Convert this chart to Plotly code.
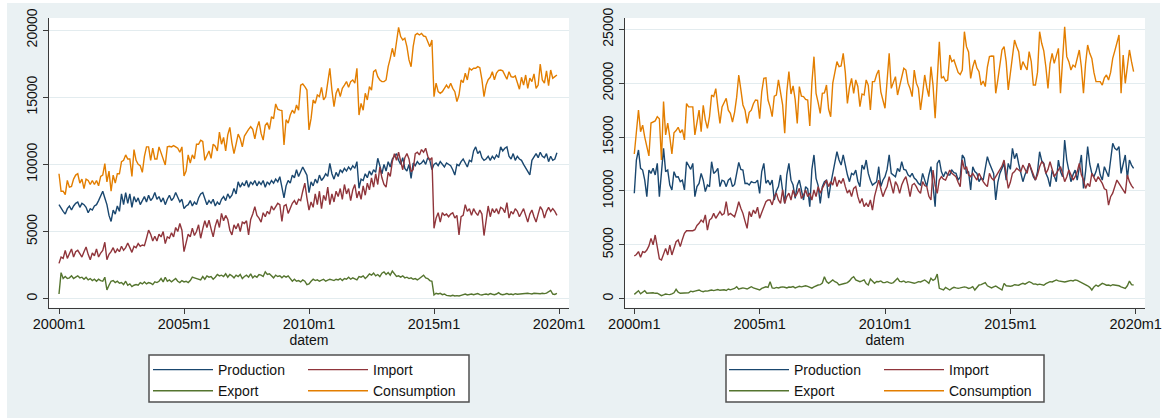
import plotly.graph_objects as go

W, H = 1170, 419
FONT = "Liberation Sans, Arial, sans-serif"

# ---------------- data ----------------
month = list(range(240))  # 2000m1 .. 2019m12
x_tick_vals = [0, 60, 120, 180, 240]
x_tick_text = ["2000m1", "2005m1", "2010m1", "2015m1", "2020m1"]
y_ticks_left = [0, 5000, 10000, 15000, 20000]
y_ticks_right = [0, 5000, 10000, 15000, 20000, 25000]

left_production = [
    7000, 6700, 6500, 6300, 6700, 6900, 6600, 6900, 7100, 7200, 6800, 7100,
    7000, 6800, 6400, 6700, 6600, 6900, 7000, 7300, 7600, 8000, 7500, 7000,
    6200, 5750, 6600, 6300, 6900, 6500, 7800, 7000, 7900, 7100, 7800, 6800,
    7600, 7200, 7500, 7000, 7300, 7600, 7200, 7700, 7300, 7500, 7900, 7400,
    7600, 7200, 7500, 7000, 7400, 7700, 7300, 7500, 7900, 7600, 7200, 7400,
    6700, 6900, 7000, 7300, 6900, 7200, 7000, 7500, 7800, 7900, 7400, 7000,
    7300, 7100, 7400, 6900, 7200, 7000, 7400, 7600, 7300, 7800, 7500, 7700,
    8200, 7800, 8700, 8300, 8600, 8400, 8800, 8300, 8700, 8500, 8800, 8400,
    8700, 8500, 8800, 8300, 8700, 8500, 8800, 8600, 8900, 8700, 9080, 8300,
    7500, 8400, 8800, 8600, 9200, 9000, 9600, 9100, 9400, 9800, 9500, 9200,
    7900, 8700, 8400, 8900, 8600, 9200, 8800, 9000, 9300, 9100, 10080, 9300,
    8900, 9400, 9100, 9600, 9400, 9700, 9500, 9800, 9600, 9900, 9700, 10200,
    8220, 8900, 8800, 9300, 9000, 9500, 9200, 9600, 9400, 10450, 9900, 9300,
    10000, 9500, 10200, 9800, 10400, 10600, 10800, 10300, 10000, 10500, 9700, 9500,
    10000, 8960, 10100, 9900, 10200, 10000, 10100, 10300, 10000, 10500, 10300, 9600,
    10000, 10100, 9900, 10200, 10000, 9800, 10100, 10000, 9900, 9600, 9200, 10000,
    9900, 10200, 10400, 10100, 9800, 10300, 10200, 11000, 11300, 10800, 11000, 10500,
    10300, 10400, 10600, 10300, 10600, 10400, 10700, 10500, 11300, 11000, 11200, 11300,
    10600, 10400, 10800, 10300, 10600, 10400, 10300, 10000, 9700, 9400, 9210, 10300,
    10600, 10800, 10500, 10900, 10600, 10500, 10800, 10200, 10600, 10300, 10400, 10870,
]
left_import = [
    2630, 3100, 3000, 3600, 3000, 3300, 3700, 3100, 3500, 3600, 3300, 3100,
    3500, 3850, 3300, 2900, 3400, 3200, 3700, 3100, 3400, 3600, 4200, 2900,
    3300, 3500, 3800, 3400, 3700, 3500, 3900, 3600, 3800, 4150, 3800, 3450,
    3900, 3800, 4100, 3900, 4000, 3950, 4500, 5100, 4800, 4300, 4650, 4300,
    4800, 4600, 5000, 4100, 4600, 4500, 4900, 4600, 5300, 5000, 5600, 5100,
    3500, 4200, 4800, 4600, 5250, 4700, 5000, 5500, 4500, 5200, 5800, 5300,
    5850, 5200, 4600, 5400, 5900, 5300, 6350, 5800, 6200, 5900, 5100, 4750,
    5500, 5200, 5600, 5000, 5700, 5600, 5800, 4750, 5900, 6300, 6850, 6200,
    6000, 5700, 6400, 6100, 6500, 6300, 6900, 6600, 6900, 7100, 7000, 5750,
    6900, 7000, 6350, 6800, 7100, 7300, 7000, 7400, 7300, 8000, 8600, 7500,
    6600, 7200, 6800, 7800, 7000, 8000, 6700, 7700, 7300, 8300, 7000, 7800,
    7200, 8000, 7600, 8200, 7400, 8500, 7800, 8200, 7300, 8100, 8500, 7500,
    8000, 7400, 8400, 7700, 8600, 8100, 9000, 8300, 9300, 8500, 9800, 9000,
    8500, 8300, 9400, 9100, 10200, 10800, 10300, 10900, 10200, 9600, 10500, 10800,
    10400, 9450, 9600, 10800, 10900, 10700, 11100, 10900, 11200, 10600, 10320, 10500,
    5240, 6000, 6400, 5700, 6400, 6200, 6300, 6100, 6300, 6400, 6000, 6200,
    4750, 6100, 6200, 7000, 6500, 6700, 6200, 6700, 6400, 6200, 6600, 6300,
    4700, 5900, 6900, 6100, 6700, 6400, 6700, 6300, 6800, 6700, 6400, 7150,
    6000, 6500, 6300, 6700, 6500, 6100, 6400, 6700, 6200, 5700, 6300, 6600,
    6100, 5700, 6300, 6850, 6600, 6000, 6500, 6800, 6500, 6700, 6500, 6200,
]
left_export = [
    350, 1940, 1500, 1650, 1500, 1550, 1700, 1500, 1600, 1700, 1550, 1600,
    1450, 1600, 1400, 1500, 1350, 1450, 1300, 1450, 1350, 1300, 1600, 650,
    1000, 1300, 1350, 1200, 1300, 1150, 1200, 1050, 1300, 1000, 1100, 900,
    1000, 1050, 1000, 1200, 1100, 1250, 1100, 1200, 1150, 1050, 1250, 1200,
    1300, 1500, 1250, 1600, 1300, 1400, 1250, 1350, 1500, 1300, 1200, 1350,
    1250, 1300, 1200, 1350, 1600, 1550, 1500, 1450, 1400, 1650, 1450, 1700,
    1600, 1650, 1450, 1600, 1800, 1700, 1750, 1650, 1850, 1600, 1800, 1700,
    1550, 1750, 1650, 1800, 1500, 1650, 1750, 1600, 1850, 1550, 1700, 1600,
    1800, 1750, 1650, 2000, 1800, 1850, 1700, 1550, 1750, 1650, 1700, 1550,
    1700, 1600, 1700, 1450, 1300, 1450, 1300, 1350, 1250, 1400, 1300, 1050,
    1100, 1300, 1450, 1350, 1400, 1300, 1350, 1450, 1300, 1400, 1450, 1400,
    1350, 1450, 1400, 1500, 1350, 1500, 1450, 1600, 1450, 1550, 1500, 1400,
    1650, 1600, 1700, 1500, 1650, 1850, 1750, 1900, 1700, 1800, 1650, 1900,
    2000, 1800, 1950, 1750, 2050, 1850, 1650, 1700, 1600, 1700, 1550, 1600,
    1500, 1550, 1450, 1500, 1400, 1500, 1600, 1750, 1550, 1500, 1350, 1300,
    280, 400, 350, 400, 300, 350, 250, 220, 200, 250, 200, 230,
    200, 250, 300, 350, 280, 300, 350, 300, 320, 380, 300, 280,
    320, 350, 300, 380, 330, 300, 350, 450, 330, 300, 330, 380,
    320, 350, 300, 370, 330, 350, 380, 350, 370, 400, 380, 350,
    400, 380, 350, 370, 400, 380, 420, 500, 620, 350, 320, 400,
]
left_consumption = [
    9300, 8000, 8000, 7750, 8800, 8300, 8350, 8900, 9200, 9300, 8600, 8900,
    8200, 8900, 8800, 8500, 8800, 8500, 8800, 8400, 9100, 9200, 10050, 8700,
    9500, 8000, 9200, 8600, 9300, 9300, 10200, 10300, 10700, 10400, 10400, 9100,
    11100, 10300, 10000, 9900, 9400, 10600, 11300, 11300, 10300, 11200, 10400, 10400,
    11300, 10800, 10400, 9950, 11300, 11350, 11300, 11400, 11300, 11200, 10900, 11300,
    9130, 9500, 10700, 10100, 10700, 10400, 11500, 11500, 11800, 11700, 10300, 10700,
    11000, 10450, 11500, 11350, 11000, 12400, 11500, 12000, 11000, 12200, 12750, 11600,
    10800, 11500, 12250, 11900, 11300, 12100, 12400, 12600, 12800, 12600, 11900, 12700,
    13200, 12300, 11800, 12900, 13100, 12600, 13550, 13400, 14500, 14100, 14030, 14000,
    11440, 13320, 13070, 13670, 14030, 13790, 14420, 14030, 15900, 15980, 15780, 15530,
    12560, 13420, 14790, 14540, 15160, 15040, 15730, 14790, 15040, 16040, 17150, 15530,
    14290, 15290, 15660, 15040, 15660, 15900, 16160, 15730, 16160, 16280, 16040, 17150,
    13670, 14540, 14030, 15290, 14790, 15780, 15530, 16900, 17020, 16530, 16280, 16160,
    16160, 16280, 17270, 17890, 18640, 18010, 19130, 20200, 19510, 19260, 19390, 18760,
    17770, 17270, 18760, 19630, 19750, 19630, 19750, 19550, 19510, 19130, 18760, 19260,
    15040, 16040, 15410, 15290, 15410, 15660, 15900, 15660, 16040, 15660, 15410, 14670,
    15160, 16280, 16090, 16780, 16280, 17150, 17020, 17150, 17150, 17270, 17200, 16300,
    15040, 15900, 16300, 16480, 16900, 16300, 16800, 17000, 17020, 16960, 16650, 16330,
    16900, 16530, 16480, 16580, 16090, 15590, 16480, 15900, 16650, 15660, 16410, 16160,
    16730, 15660, 15900, 17470, 16280, 16040, 16960, 15850, 17020, 16410, 16530, 16650,
]

right_production = [
    9780, 12870, 13800, 12100, 11940, 11010, 9470, 11940, 11630, 12100, 11480, 12560,
    9470, 11800, 13950, 11790, 11940, 10550, 10090, 11790, 11300, 11320, 10860, 11000,
    10090, 12710, 12410, 12000, 12560, 9470, 10400, 10700, 11630, 11000, 9940, 10550,
    10400, 12710, 11630, 11800, 12100, 10400, 11000, 10900, 10400, 11000, 11170, 10400,
    10600, 11500, 12650, 12000, 11940, 10700, 10710, 10550, 10860, 10770, 10770, 11000,
    9780, 11800, 12560, 10710, 11000, 10550, 11010, 9160, 10000, 10400, 11480, 10000,
    8850, 11500, 12560, 11000, 10550, 9320, 10500, 11010, 10000, 9160, 10400, 10200,
    8540, 12000, 13340, 11170, 10500, 8850, 10400, 10860, 11000, 9320, 10600, 11630,
    12500, 13640, 12870, 12400, 13340, 12250, 11500, 10860, 11630, 11500, 11940, 10900,
    10400, 12410, 12000, 12870, 11630, 11000, 10550, 10700, 10860, 12250, 10400, 11000,
    11320, 12000, 13340, 11630, 11500, 11320, 12100, 11800, 12710, 12000, 11940, 11500,
    11320, 11630, 11200, 11010, 10700, 10550, 11630, 11000, 10400, 11480, 12250, 10500,
    8540, 12560, 12870, 11800, 11320, 11790, 11500, 11480, 11940, 11700, 11630, 11010,
    11300, 13340, 13030, 11630, 11800, 10090, 12250, 11800, 11630, 10860, 11200, 11010,
    12000, 13180, 12560, 12000, 11630, 9160, 10800, 11630, 12200, 12560, 11010, 12560,
    12000, 13950, 13000, 13490, 12500, 11630, 10860, 11500, 11940, 12560, 12000, 11320,
    11010, 11800, 13640, 12800, 12560, 11630, 11200, 10400, 11940, 11300, 10860, 12870,
    11800, 11320, 14730, 12870, 12000, 10860, 11500, 11940, 11010, 12000, 13340, 10240,
    11800, 14110, 12500, 11630, 11320, 11800, 12560, 11500, 11010, 12250, 11800, 11320,
    12870, 14420, 13950, 13800, 14110, 11630, 12500, 13340, 11170, 12870, 12400, 12100,
]
right_import = [
    3960, 4100, 4370, 3840, 4360, 4300, 4520, 4900, 5600, 5000, 5910, 4600,
    3700, 3590, 4210, 4670, 4060, 4980, 4060, 4700, 5290, 5450, 4830, 5500,
    6070, 6310, 6310, 6310, 6310, 6400, 6800, 7000, 7300, 7100, 7770, 6370,
    7300, 7460, 7920, 7460, 7800, 8080, 7770, 7900, 9000, 7770, 7920, 7800,
    7610, 8230, 9000, 8400, 7920, 7200, 6530, 8080, 7610, 8230, 7900, 8500,
    7460, 8000, 8540, 9000, 9160, 9160, 8700, 9470, 9800, 9160, 8850, 10090,
    8850, 9470, 9800, 9160, 10090, 9470, 9780, 10240, 9300, 9600, 10090, 9470,
    9800, 9160, 10090, 9470, 10400, 9780, 10240, 10700, 11000, 10400, 10860, 10550,
    11320, 10400, 11000, 10700, 11170, 10400, 9800, 10090, 9470, 10240, 10400, 9470,
    8850, 9300, 8540, 8850, 8540, 9160, 8230, 9500, 10400, 11010, 10200, 9470,
    10000, 10400, 11320, 10500, 9780, 10860, 10500, 9780, 10550, 11000, 11320, 10500,
    9470, 10550, 10700, 10400, 10000, 9780, 10860, 10500, 10400, 9500, 9160, 11940,
    10500, 9780, 11010, 11320, 11100, 11010, 11400, 11940, 11630, 11500, 11320, 10800,
    10400, 12870, 12000, 12250, 11500, 11320, 11630, 11300, 11010, 11630, 11200, 10860,
    10600, 10400, 11630, 11200, 11010, 11320, 11600, 11940, 12300, 12870, 11630, 10240,
    10800, 11630, 11800, 12100, 11940, 11800, 12410, 12000, 11630, 12560, 12000, 11630,
    11010, 11500, 12250, 12710, 12500, 11630, 12000, 12710, 11900, 11320, 11630, 12000,
    12250, 11630, 10860, 11300, 11940, 11500, 11010, 11320, 11800, 12560, 11500, 11010,
    10240, 10700, 10400, 11630, 11200, 10860, 11320, 11000, 10700, 10200, 10090, 8690,
    9470, 9800, 10400, 11010, 10700, 10400, 10000, 9780, 11480, 10860, 10500, 10240,
]
right_export = [
    400, 600, 740, 450, 600, 740, 500, 520, 480, 550, 500, 520,
    400, 280, 350, 430, 400, 380, 450, 550, 870, 600, 500, 500,
    520, 480, 550, 700, 650, 710, 750, 810, 700, 650, 720, 700,
    760, 810, 750, 800, 850, 780, 810, 830, 760, 900, 820, 850,
    950, 1110, 880, 950, 1000, 960, 900, 1010, 1110, 1000, 950, 830,
    810, 960, 1000, 1100, 1050, 1580, 1000, 960, 1050, 1000, 1060, 1100,
    1060, 1000, 1080, 1060, 1120, 1000, 1080, 1150, 1100, 1180, 1200, 1150,
    1050, 980, 1100, 1200, 1270, 1300, 1450, 2040, 1600, 1430, 1600, 1740,
    1580, 1500, 1270, 1300, 1350, 1430, 1500, 1650, 1900, 2040, 1740, 1650,
    1580, 1650, 1740, 1400, 1270, 1830, 1600, 1430, 1600, 1580, 1650, 1500,
    1490, 1580, 1500, 1430, 1500, 1700, 1890, 1600, 1580, 1650, 1500, 1580,
    1550, 1500, 1430, 1500, 1580, 1550, 1650, 1740, 1600, 1430, 1890, 1700,
    1830, 2290, 960, 900, 807, 1055, 950, 807, 950, 1055, 1000, 960,
    1000, 1050, 1100, 1055, 950, 1000, 1115, 807, 1100, 1271, 1300, 1400,
    1490, 1200, 1115, 1000, 1100, 1180, 1050, 900, 807, 1426, 1200, 1180,
    1150, 1200, 1300, 1271, 1250, 1350, 1426, 1350, 1450, 1580, 1500, 1350,
    1370, 1300, 1350, 1271, 1250, 1400, 1500, 1580, 1550, 1650, 1740, 1650,
    1600, 1580, 1550, 1600, 1650, 1700, 1650, 1740, 1700, 1600, 1500, 1426,
    1350, 1200, 1055, 807, 1100, 1271, 1150, 1300, 1426, 1350, 1250, 1271,
    1200, 1300, 1271, 1250, 1200, 1100, 1055, 960, 1200, 1640, 1300, 1271,
]
right_consumption = [
    13430, 15500, 17510, 15500, 16100, 15000, 14100, 13250, 16300, 16400, 16500, 16900,
    16700, 12870, 18290, 15200, 16300, 15000, 13430, 15400, 15600, 15900, 15400, 15700,
    14730, 18100, 17800, 17800, 17800, 15200, 16200, 17500, 15500, 17950, 16600, 15800,
    16900, 18900, 18750, 19500, 17800, 16270, 17800, 18200, 18600, 17500, 17200, 16400,
    17300, 18700, 20760, 19400, 17980, 17500, 16270, 17300, 17500, 18100, 18440, 18400,
    16700, 19200, 20450, 20500, 18440, 17800, 16890, 18800, 18900, 20300, 18900, 17980,
    15350, 19200, 21070, 19000, 19750, 18500, 16270, 19680, 18800, 18750, 18500, 18440,
    16030, 20000, 22460, 19060, 18200, 17200, 19060, 19100, 19830, 17600, 16890, 20000,
    21000, 22000, 21530, 21600, 22770, 21000, 18130, 19600, 20450, 19060, 20300, 19700,
    17820, 19000, 18900, 20300, 19800, 17510, 20140, 20140, 20800, 21220, 19200, 18500,
    17670, 20200, 22770, 19520, 20000, 20610, 18900, 19800, 20600, 21380, 21220, 20000,
    19500, 18750, 21220, 20000, 19520, 17510, 19000, 20760, 19600, 18750, 21530, 19800,
    16740, 20500, 23850, 20450, 20610, 20200, 20300, 22620, 22000, 22150, 21530, 21000,
    20800, 21220, 24780, 23390, 22900, 20450, 21500, 22150, 21400, 21070, 19830, 20200,
    19680, 21500, 22460, 22520, 22500, 19060, 20300, 21500, 23080, 23390, 22000, 19370,
    21000, 22770, 24000, 23400, 22930, 21220, 22000, 21600, 21220, 22930, 22000, 19830,
    19830, 21000, 24780, 23700, 23000, 21500, 19520, 21800, 22770, 21840, 22500, 23230,
    19060, 21800, 25240, 22460, 22000, 21220, 21680, 21500, 22300, 23080, 21500, 19060,
    21800, 23540, 22770, 22300, 21000, 20140, 20140, 20140, 19830, 20500, 20760, 20300,
    21000, 22310, 23000, 23700, 24470, 19060, 22620, 19990, 21500, 23080, 22000, 21070,
]

for _s in (left_production, left_import, left_export, left_consumption,
           right_production, right_import, right_export, right_consumption):
    assert len(_s) == 240, len(_s)

# ---------------- style ----------------
COL = {"Production": "#1A476F", "Import": "#90353B",
       "Export": "#55752F", "Consumption": "#E37E00"}
BG = "#EAF1F3"
GRID = "#E3ECEF"
AXC = "#3a3a3a"


def px(x):
    return x / W


def py(y):
    return 1 - y / H


fig = go.Figure()

panels = [
    ("x", "y", [("Production", left_production, "legend"),
                ("Import", left_import, "legend2"),
                ("Export", left_export, "legend"),
                ("Consumption", left_consumption, "legend2")]),
    ("x2", "y2", [("Production", right_production, "legend3"),
                  ("Import", right_import, "legend4"),
                  ("Export", right_export, "legend3"),
                  ("Consumption", right_consumption, "legend4")]),
]
for xa, ya, items in panels:
    for name, vals, leg in items:
        fig.add_trace(go.Scatter(
            x=month, y=vals, mode="lines", name=name,
            line=dict(color=COL[name], width=1.4),
            xaxis=xa, yaxis=ya, legend=leg, hoverinfo="skip"))

tickfont = dict(family=FONT, size=14, color="#111")
xtickfont = dict(family=FONT, size=14.5, color="#111")


def xaxis(domain, rng, anchor):
    return dict(domain=domain, range=rng, anchor=anchor,
                tickvals=x_tick_vals, ticktext=x_tick_text,
                ticks="outside", ticklen=5, tickwidth=1, tickcolor=AXC,
                showline=True, linecolor=AXC, linewidth=1,
                showgrid=False, zeroline=False, tickfont=xtickfont,
                ticklabelstandoff=-2,
                title=dict(text="datem", font=tickfont, standoff=0),
                automargin=False)


def yaxis(domain, rng, anchor, tv):
    return dict(domain=domain, range=rng, anchor=anchor,
                tickvals=tv, ticktext=[str(v) for v in tv],
                ticks="outside", ticklen=5, tickwidth=1, tickcolor=AXC,
                showline=True, linecolor=AXC, linewidth=1,
                showgrid=True, gridcolor=GRID, gridwidth=1,
                zeroline=False, tickfont=tickfont, tickangle=-90,
                automargin=False)


ydom = [py(307.7), py(18)]
fig.update_layout(
    width=W, height=H,
    margin=dict(l=0, r=0, t=0, b=0),
    paper_bgcolor="white", plot_bgcolor="rgba(0,0,0,0)",
    font=dict(family=FONT, size=14, color="#111"),
    xaxis=xaxis([px(49), px(569)], [-4.8, 244.8], "y"),
    yaxis=yaxis(ydom, [-670, 20893], "x", y_ticks_left),
    xaxis2=xaxis([px(625), px(1145)], [-4.45, 244.45], "y2"),
    yaxis2=yaxis(ydom, [-835, 26049], "x2", y_ticks_right),
    showlegend=True,
)

legend_common = dict(bgcolor="rgba(0,0,0,0)", borderwidth=0,
                     font=dict(family=FONT, size=14, color="#111"),
                     orientation="v", xanchor="left", yanchor="top",
                     itemwidth=60, tracegroupgap=0, itemclick=False,
                     itemdoubleclick=False)
legend_pos = {"legend": 148, "legend2": 303, "legend3": 724, "legend4": 879}
for key, lx in legend_pos.items():
    fig.update_layout({key: dict(legend_common, x=px(lx), y=py(354))})

shapes = [
    dict(type="rect", xref="paper", yref="paper", x0=px(7), x1=px(1160),
         y0=py(418), y1=py(3), fillcolor=BG, line=dict(width=0), layer="below"),
    dict(type="rect", xref="paper", yref="paper", x0=px(49), x1=px(569),
         y0=py(307.7), y1=py(18), fillcolor="white", line=dict(width=0), layer="below"),
    dict(type="rect", xref="paper", yref="paper", x0=px(625), x1=px(1145),
         y0=py(307.7), y1=py(18), fillcolor="white", line=dict(width=0), layer="below"),
    dict(type="rect", xref="paper", yref="paper", x0=px(149), x1=px(469),
         y0=py(402), y1=py(355), fillcolor="white",
         line=dict(width=1.5, color="#505050"), layer="below"),
    dict(type="rect", xref="paper", yref="paper", x0=px(726), x1=px(1044),
         y0=py(402), y1=py(355), fillcolor="white",
         line=dict(width=1.5, color="#505050"), layer="below"),
]
fig.update_layout(shapes=shapes)

fig.write_html("out.html")
